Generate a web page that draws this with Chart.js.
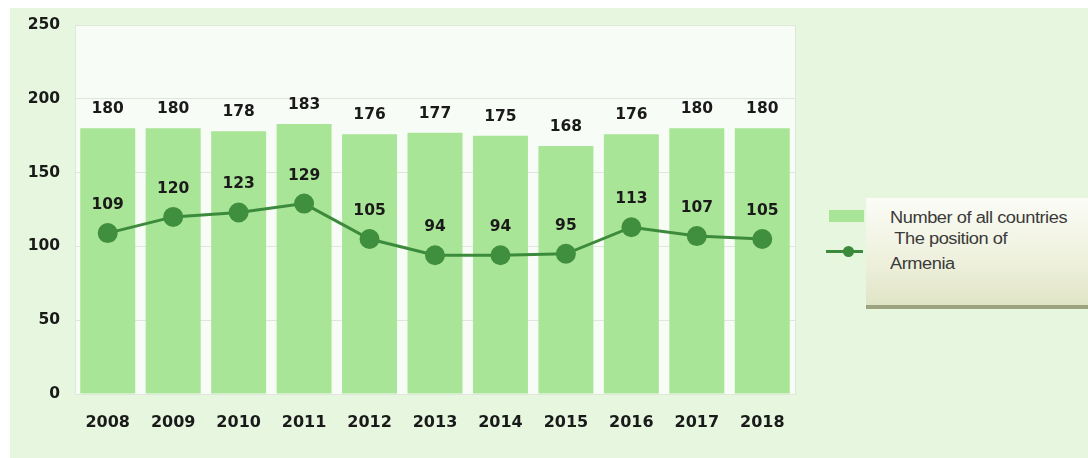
<!DOCTYPE html>
<html>
<head>
<meta charset="utf-8">
<script src="https://cdn.jsdelivr.net/npm/chart.js@4"></script>
<style>
  html, body { margin: 0; padding: 0; background: #ffffff; }
  #wrap { position: relative; width: 1088px; height: 458px; overflow: hidden; }
  #panel { position: absolute; left: 10px; top: 8px; right: 0; bottom: 0; background: #e7f7df; }
  #chart { position: absolute; left: 0; top: 0; }
  #legendBox {
    position: absolute; left: 866px; top: 198px; width: 222px; height: 107px;
    background: linear-gradient(to bottom, #fbfcf6 0%, #eef0dc 60%, #e0e4c6 100%);
    border-bottom: 4px solid #9ca37e;
  }
  .ltext {
    position: absolute; font-family: "Liberation Sans", Arial, sans-serif; font-size: 16px;
    line-height: 18px; color: #3a3a3a; white-space: pre; letter-spacing: -0.4px;
    transform: scaleX(1.14); transform-origin: left top;
  }
  .lbar { position: absolute; left: 829px; top: 210px; width: 35px; height: 12px; background: #a9e596; }
  .lline { position: absolute; left: 826px; top: 250px; width: 37px; height: 3px; background: #3c8a3c; }
  .ldot { position: absolute; left: 843px; top: 246px; width: 11px; height: 11px; border-radius: 50%; background: #3c8a3c; }
</style>
</head>
<body>
<div id="wrap">
  <div id="panel"></div>
  <canvas id="chart" width="1088" height="458"></canvas>
  <div id="legendBox"></div>
  <div class="lbar"></div>
  <div class="lline"></div>
  <div class="ldot"></div>
  <div class="ltext" style="left:890px; top:209px;">Number of all countries</div>
  <div class="ltext" style="left:890px; top:230px;"> The position of</div>
  <div class="ltext" style="left:890px; top:255px;">Armenia</div>
</div>
<script>
// Chart data
const years = ['2008', '2009', '2010', '2011', '2012', '2013', '2014', '2015', '2016', '2017', '2018'];
const allCountries = [180, 180, 178, 183, 176, 177, 175, 168, 176, 180, 180];
const armeniaPosition = [109, 120, 123, 129, 105, 94, 94, 95, 113, 107, 105];
const yTicks = [0, 50, 100, 150, 200, 250];

const barColor = '#a9e596';
const lineColor = '#3c8a3c';
const labelFont = 'bold 15.5px "DejaVu Sans", Verdana, sans-serif';

// Plot area background
const plotBackground = {
    id: 'plotBackground',
    beforeDraw(chart) {
        const { ctx, chartArea: a } = chart;
        ctx.save();
        ctx.fillStyle = '#f8fcf6';
        ctx.fillRect(a.left, a.top, a.right - a.left, a.bottom - a.top);
        ctx.strokeStyle = '#dde8d8';
        ctx.lineWidth = 1;
        ctx.strokeRect(a.left + 0.5, a.top + 0.5, a.right - a.left, a.bottom - a.top);
        ctx.restore();
    }
};

// Value labels above bars and points
const valueLabels = {
    id: 'valueLabels',
    afterDatasetsDraw(chart) {
        const ctx = chart.ctx;
        ctx.save();
        ctx.font = labelFont;
        ctx.fillStyle = '#1a1a1a';
        ctx.textAlign = 'center';
        ctx.textBaseline = 'middle';
        chart.getDatasetMeta(1).data.forEach((bar, i) => {
            ctx.fillText(allCountries[i], bar.x, bar.y - 19);
        });
        chart.getDatasetMeta(0).data.forEach((pt, i) => {
            ctx.fillText(armeniaPosition[i], pt.x, pt.y - 28);
        });
        ctx.restore();
    }
};

new Chart(document.getElementById('chart'), {
    type: 'bar',
    data: {
        labels: years,
        datasets: [
            {
                type: 'line',
                label: 'The position of Armenia',
                data: armeniaPosition,
                borderColor: lineColor,
                backgroundColor: lineColor,
                borderWidth: 3,
                pointRadius: 8.5,
                pointBackgroundColor: '#3f8f3f',
                pointBorderColor: '#3f8f3f',
                tension: 0,
                order: 0
            },
            {
                type: 'bar',
                label: 'Number of all countries',
                data: allCountries,
                backgroundColor: barColor,
                borderWidth: 0,
                categoryPercentage: 1.0,
                barPercentage: 0.84,
                order: 1
            }
        ]
    },
    options: {
        responsive: false,
        animation: false,
        layout: { padding: { left: 0, right: 293, top: 25, bottom: 0 } },
        plugins: {
            legend: { display: false },
            tooltip: { enabled: false }
        },
        scales: {
            x: {
                grid: { display: false },
                border: { display: false },
                ticks: {
                    color: '#1a1a1a',
                    padding: 11,
                    font: { family: '"DejaVu Sans", Verdana, sans-serif', size: 16, weight: 'bold' }
                },
                afterFit(scale) { scale.height = 64; }
            },
            y: {
                min: 0,
                max: 250,
                afterBuildTicks(scale) { scale.ticks = yTicks.map(v => ({ value: v })); },
                grid: { color: '#dfe6da', drawTicks: false },
                border: { display: false },
                ticks: {
                    color: '#1a1a1a',
                    padding: 15,
                    font: { family: '"DejaVu Sans", Verdana, sans-serif', size: 15.5, weight: 'bold' }
                },
                afterFit(scale) { scale.width = 75; }
            }
        }
    },
    plugins: [plotBackground, valueLabels]
});
</script>
</body>
</html>
